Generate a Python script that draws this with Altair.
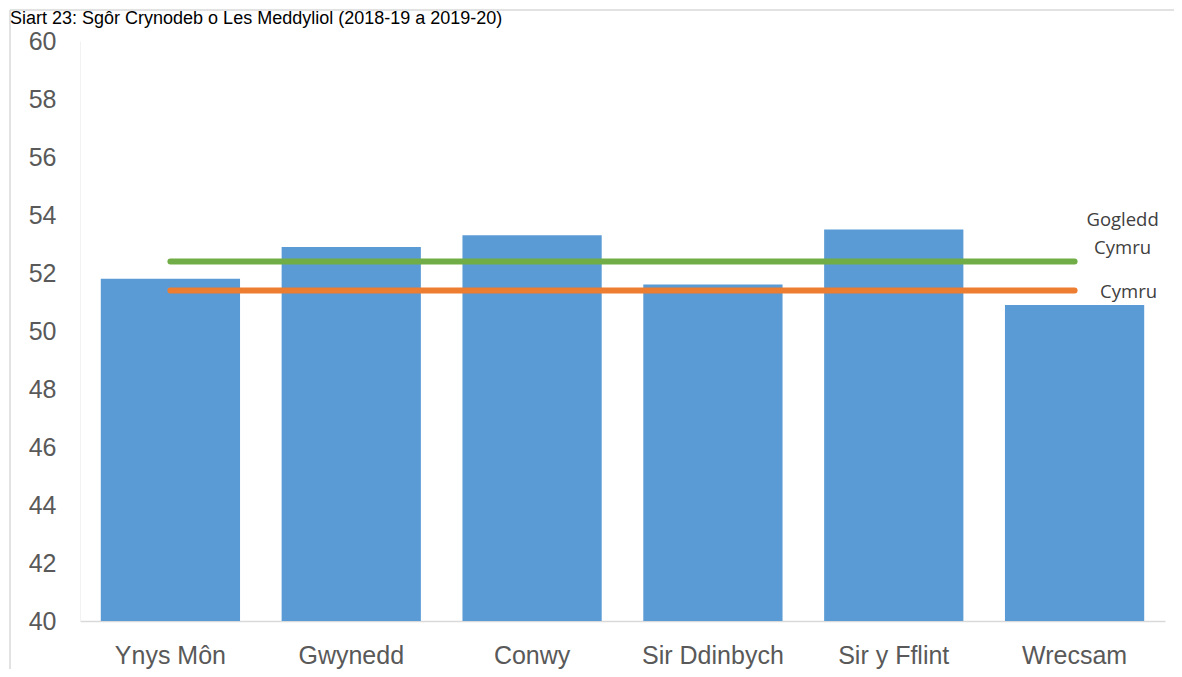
import altair as alt
import pandas as pd

categories = ["Ynys Môn", "Gwynedd", "Conwy", "Sir Ddinbych", "Sir y Fflint", "Wrecsam"]
scores = [51.8, 52.9, 53.3, 51.6, 53.5, 50.9]

ref_names = ["Gogledd\nCymru", "Cymru"]
ref_values = [52.4, 51.4]
ref_colors = ["#70AD47", "#ED7D31"]

title_text = "Siart 23: Sgôr Crynodeb o Les Meddyliol (2018-19 a 2019-20)"

bars_df = pd.DataFrame({"cat": categories, "score": scores})
ref_df = pd.DataFrame({
    "name": ref_names,
    "value": ref_values,
    "color": ref_colors,
    "start": [categories[0]] * 2,
    "end": [categories[-1]] * 2,
})

xscale = alt.Scale(domain=categories, paddingInner=0.23, paddingOuter=0.115)
yscale = alt.Scale(domain=[40, 60], nice=False, zero=False)

bars = alt.Chart(bars_df).mark_bar(color="#5B9BD5").encode(
    x=alt.X("cat:N", sort=categories, scale=xscale,
            axis=alt.Axis(title=None, labelAngle=0, labelFont="Liberation Sans",
                          labelFontSize=25, labelColor="#595959", ticks=False,
                          domainColor="#D9D9D9", domainWidth=1.5, labelPadding=22)),
    y=alt.Y("score:Q", scale=yscale,
            axis=alt.Axis(title=None, values=list(range(40, 61, 2)), grid=False,
                          ticks=False, labelFont="Liberation Sans", labelFontSize=25,
                          labelColor="#595959", domainColor="#F2F2F2",
                          labelPadding=24)),
    y2=alt.datum(40),
)

lines = alt.Chart(ref_df).mark_rule(strokeWidth=6, strokeCap="round").encode(
    x=alt.X("start:N", sort=categories, scale=xscale),
    x2="end:N",
    y="value:Q",
    color=alt.Color("color:N", scale=None),
)

lbl_green = alt.Chart(ref_df.iloc[[0]]).mark_text(
    font="Open Sans", fontSize=18.5, color="#404040", align="center",
    baseline="middle", lineBreak="\n", lineHeight=28, dx=48, dy=-41,
).encode(x=alt.X("end:N", sort=categories, scale=xscale), y="value:Q", text="name:N")

lbl_orange = alt.Chart(ref_df.iloc[[1]]).mark_text(
    font="Open Sans", fontSize=18.5, color="#404040", align="center",
    baseline="middle", dx=54, dy=2,
).encode(x=alt.X("end:N", sort=categories, scale=xscale), y="value:Q", text="name:N")

frame_left = alt.Chart(bars_df.iloc[[0]]).mark_rule(color="#D9D9D9", strokeWidth=1.5).encode(
    x=alt.value(-70), y=alt.value(-31), y2=alt.value(640))
frame_top = alt.Chart(bars_df.iloc[[0]]).mark_rule(color="#D9D9D9", strokeWidth=1.5).encode(
    x=alt.value(-70), x2=alt.value(1100), y=alt.value(-31))

title = alt.Chart(bars_df.iloc[[0]]).mark_text(
    font="Liberation Sans", fontSize=18, color="#000000", align="left",
    baseline="alphabetic", text=title_text,
).encode(x=alt.value(-70), y=alt.value(-17))

chart = alt.layer(frame_left, frame_top, title, bars, lines, lbl_green, lbl_orange).properties(
    width=1085, height=580,
    autosize=alt.AutoSizeParams(type="none"),
    padding={"left": 72, "top": 33, "right": 9, "bottom": 48},
).configure_view(stroke=None)

chart.save("out.html", embed_options={"renderer": "svg", "actions": False})
